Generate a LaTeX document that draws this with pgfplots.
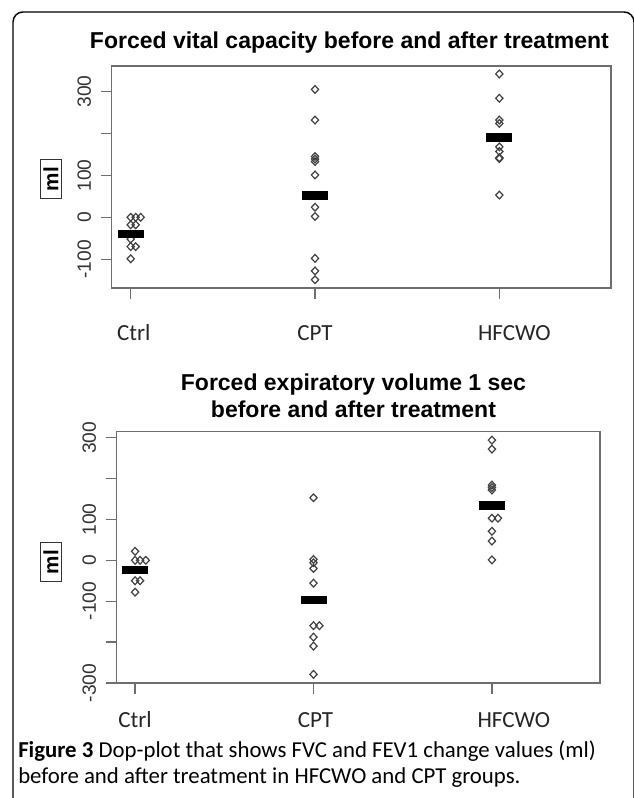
\documentclass[border=0pt]{standalone}
\usepackage{pgfplots}
\pgfplotsset{compat=1.18}
\usepackage{fontspec}
\setmainfont{Liberation Sans}
\newfontfamily\capfont{Carlito}

\definecolor{axgray}{HTML}{6E6E6E}
\definecolor{ptgray}{HTML}{404040}

\pgfplotsset{
  dopplot/.style={
    scale only axis,
    xmin=0.897, xmax=3.606,
    xtick={1,2,3},
    xtick pos=left, ytick pos=left,
    tick align=outside,
    major tick length=8.25pt,
    axis line style={axgray, line width=1pt},
    every tick/.style={axgray, line width=1pt},
    xticklabel style={font=\capfont\fontsize{17.3}{20}\selectfont, text=black!85,
      anchor=north, inner sep=0pt, text height=12.5pt, text depth=0pt},
    yticklabel style={font=\fontsize{14.4}{16}\selectfont, text=black!80,
      rotate=90, anchor=south, inner sep=0pt},
    /pgf/number format/assume math mode=true,
  },
  pts/.style={only marks, mark=diamond, mark size=2.9pt, ptgray,
    mark options={xscale=1.25, line width=0.9pt, fill=none}},
  meanbar/.style={only marks, mark=-, mark size=9.75pt, black,
    mark options={line width=6.4pt}},
}

\begin{document}
\begin{tikzpicture}

% frame of the figure
\draw[black, line width=1.1pt, rounded corners=7.5pt]
  (9.75pt,-2pt) -- (9.75pt,589.5pt) -- (475.5pt,589.5pt) -- (475.5pt,-2pt);

% FVC
\begin{axis}[dopplot,
  at={(83.78pt,382.5pt)}, anchor=south west,
  width=374.5pt, height=166.5pt,
  ymin=-168.7, ymax=361,
  ytick={-100,0,100,200,300},
  yticklabels={-100,0,100,,300},
  xticklabels={\hspace*{4.5pt}Ctrl,CPT,\hspace*{22.5pt}HFCWO},
  xticklabel shift=18.25pt,
  yticklabel shift=7pt,
]
\addplot[pts] coordinates {
  (1,0) (1.027,0) (1.054,0) (1,-18) (1.027,-18) (1,-52) (1,-70) (1.027,-70) (1,-99)
  (2,305) (2,232) (2,145) (2,139) (2,133) (2,101) (2,24) (2,2) (2,-98) (2,-128) (2,-149)
  (3,342) (3,284) (3,232) (3,224) (3,168) (3,157) (3,142) (3,140) (3,53)
};
\addplot[meanbar] coordinates {(1,-40) (2,52) (3,191)};
\end{axis}

% FEV1
\begin{axis}[dopplot,
  at={(87.53pt,86.25pt)}, anchor=south west,
  width=362.5pt, height=188.5pt,
  ymin=-300.2, ymax=314.7,
  ytick={-300,-200,-100,0,100,200,300},
  yticklabels={-300,,-100,0,100,,300},
  xticklabels={Ctrl,\hspace*{3pt}CPT,\hspace*{33pt}HFCWO},
  xticklabel shift=12.25pt,
  yticklabel shift=7pt,
]
\addplot[pts] coordinates {
  (1,22) (1,0) (1.028,0) (1.06,0) (1,-50) (1.028,-50) (1,-78)
  (2,153) (2,2) (2,-6) (2,-20) (2,-56) (2,-160) (2.033,-160) (2,-188) (2,-210) (2,-279)
  (3,294) (3,272) (3,184) (3,178) (3,172) (3,103) (3.034,103) (3,71) (3,47) (3,1)
};
\addplot[meanbar] coordinates {(1,-24) (2,-97) (3,134)};
\end{axis}

% titles
\node[anchor=base, font=\bfseries\fontsize{17.25}{20}\selectfont]
  at (262.1pt,561.75pt) {Forced vital capacity before and after treatment};
\node[anchor=base, font=\bfseries\fontsize{17.25}{20}\selectfont]
  at (265.1pt,305.25pt) {Forced expiratory volume 1 sec};
\node[anchor=base, font=\bfseries\fontsize{17.25}{20}\selectfont]
  at (265.1pt,285pt) {before and after treatment};

% y axis labels
\node[draw=black!80, line width=0.8pt, rotate=90, inner xsep=5.5pt, inner ysep=2.5pt,
  font=\bfseries\fontsize{15.5}{17}\selectfont] at (38.25pt,464.25pt) {ml};
\node[draw=black!80, line width=0.8pt, rotate=90, inner xsep=5.5pt, inner ysep=2.5pt,
  font=\bfseries\fontsize{15.5}{17}\selectfont] at (38.25pt,177pt) {ml};

% caption
\node[anchor=base west, inner sep=0pt, font=\capfont\fontsize{17.1}{20}\selectfont]
  at (13.5pt,30pt) {\textbf{Figure 3} Dop-plot that shows FVC and FEV1 change values (ml)};
\node[anchor=base west, inner sep=0pt, font=\capfont\fontsize{17.1}{20}\selectfont]
  at (13.5pt,10.5pt) {before and after treatment in HFCWO and CPT groups.};

\pgfresetboundingbox
\path[use as bounding box] (0pt,0pt) rectangle (474.75pt,598.5pt);
\end{tikzpicture}
\end{document}
